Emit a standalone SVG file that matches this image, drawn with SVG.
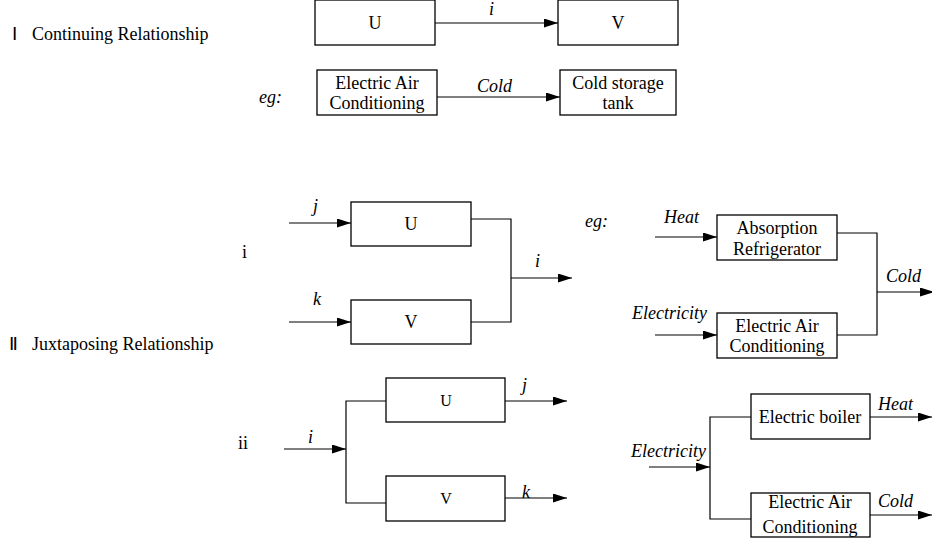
<svg xmlns="http://www.w3.org/2000/svg" width="932" height="542" viewBox="0 0 932 542">
<style>
text{font-family:"Liberation Serif","Times New Roman",serif;font-size:18px;fill:#000}
.it{font-style:italic}
.c{text-anchor:middle}
.sm{font-size:16px}
.box{fill:#fff;stroke:#000;stroke-width:1.3}
.ln{fill:none;stroke:#000;stroke-width:1.2}
</style>
<defs>
<marker id="ah" markerUnits="userSpaceOnUse" markerWidth="15" markerHeight="10" refX="14" refY="4.5" orient="auto">
<path d="M0,0 L14,4.5 L0,9 z" fill="#000"/>
</marker>
</defs>
<g id="titles">
<text x="12" y="40">Ⅰ</text>
<text x="32" y="40">Continuing Relationship</text>
<text x="9" y="350">Ⅱ</text>
<text x="32" y="350">Juxtaposing Relationship</text>
<text x="259" y="103" class="it">eg:</text>
<text x="585" y="227" class="it">eg:</text>
<text x="242" y="258">i</text>
<text x="238" y="449">ii</text>
</g>
<g id="connectors">
<line class="ln" x1="435" y1="23" x2="558" y2="23" marker-end="url(#ah)"/>
<line class="ln" x1="437" y1="97" x2="560" y2="97" marker-end="url(#ah)"/>
<line class="ln" x1="289" y1="223" x2="351" y2="223" marker-end="url(#ah)"/>
<line class="ln" x1="289" y1="322" x2="351" y2="322" marker-end="url(#ah)"/>
<polyline class="ln" points="471,219 511,219 511,322 471,322"/>
<line class="ln" x1="511" y1="278" x2="572" y2="278" marker-end="url(#ah)"/>
<line class="ln" x1="655" y1="237" x2="717" y2="237" marker-end="url(#ah)"/>
<line class="ln" x1="655" y1="335" x2="717" y2="335" marker-end="url(#ah)"/>
<polyline class="ln" points="837,233 877,233 877,335 837,335"/>
<line class="ln" x1="877" y1="292" x2="934" y2="292" marker-end="url(#ah)"/>
<line class="ln" x1="284" y1="449" x2="346" y2="449" marker-end="url(#ah)"/>
<polyline class="ln" points="386,401 346,401 346,503 386,503"/>
<line class="ln" x1="505" y1="401" x2="567" y2="401" marker-end="url(#ah)"/>
<line class="ln" x1="505" y1="498" x2="567" y2="498" marker-end="url(#ah)"/>
<line class="ln" x1="649" y1="467" x2="710" y2="467" marker-end="url(#ah)"/>
<polyline class="ln" points="751,417 710,417 710,519 751,519"/>
<line class="ln" x1="870" y1="417" x2="932" y2="417" marker-end="url(#ah)"/>
<line class="ln" x1="870" y1="515" x2="932" y2="515" marker-end="url(#ah)"/>
</g>
<g id="labels">
<text x="489" y="15" class="it">i</text>
<text x="477" y="92" class="it">Cold</text>
<text x="313" y="212" class="it">j</text>
<text x="313" y="305" class="it">k</text>
<text x="535" y="267" class="it">i</text>
<text x="664" y="223" class="it">Heat</text>
<text x="886" y="282" class="it">Cold</text>
<text x="632" y="319" class="it">Electricity</text>
<text x="308" y="443" class="it">i</text>
<text x="522" y="391" class="it">j</text>
<text x="522" y="498" class="it">k</text>
<text x="631" y="457" class="it">Electricity</text>
<text x="878" y="410" class="it">Heat</text>
<text x="878" y="507" class="it">Cold</text>
</g>
<g id="n1-U"><rect class="box" x="315" y="0" width="120" height="45"/><text x="375" y="29" class="c">U</text></g>
<g id="n1-V"><rect class="box" x="558" y="0" width="120" height="45"/><text x="618" y="29" class="c">V</text></g>
<g id="n1-eac"><rect class="box" x="317" y="70" width="120" height="45"/><text x="377" y="89" class="c">Electric Air</text><text x="377" y="109" class="c">Conditioning</text></g>
<g id="n1-cst"><rect class="box" x="560" y="70" width="116" height="45"/><text x="618" y="89" class="c">Cold storage</text><text x="618" y="109" class="c">tank</text></g>
<g id="n2-U"><rect class="box" x="351" y="202" width="120" height="44"/><text x="411" y="230" class="c">U</text></g>
<g id="n2-V"><rect class="box" x="351" y="300" width="120" height="44"/><text x="411" y="328" class="c">V</text></g>
<g id="n2-abs"><rect class="box" x="717" y="215" width="120" height="45"/><text x="777" y="234" class="c">Absorption</text><text x="777" y="255" class="c">Refrigerator</text></g>
<g id="n2-eac"><rect class="box" x="717" y="313" width="120" height="45"/><text x="777" y="332" class="c">Electric Air</text><text x="777" y="352" class="c">Conditioning</text></g>
<g id="n3-U"><rect class="box" x="386" y="378" width="119" height="44"/><text x="446" y="406" class="c sm">U</text></g>
<g id="n3-V"><rect class="box" x="386" y="476" width="119" height="45"/><text x="446" y="504" class="c sm">V</text></g>
<g id="n3-boiler"><rect class="box" x="751" y="394" width="119" height="45"/><text x="810" y="423" class="c">Electric boiler</text></g>
<g id="n3-eac"><rect class="box" x="751" y="493" width="119" height="44"/><text x="810" y="508" class="c">Electric Air</text><text x="810" y="533" class="c">Conditioning</text></g>
</svg>
